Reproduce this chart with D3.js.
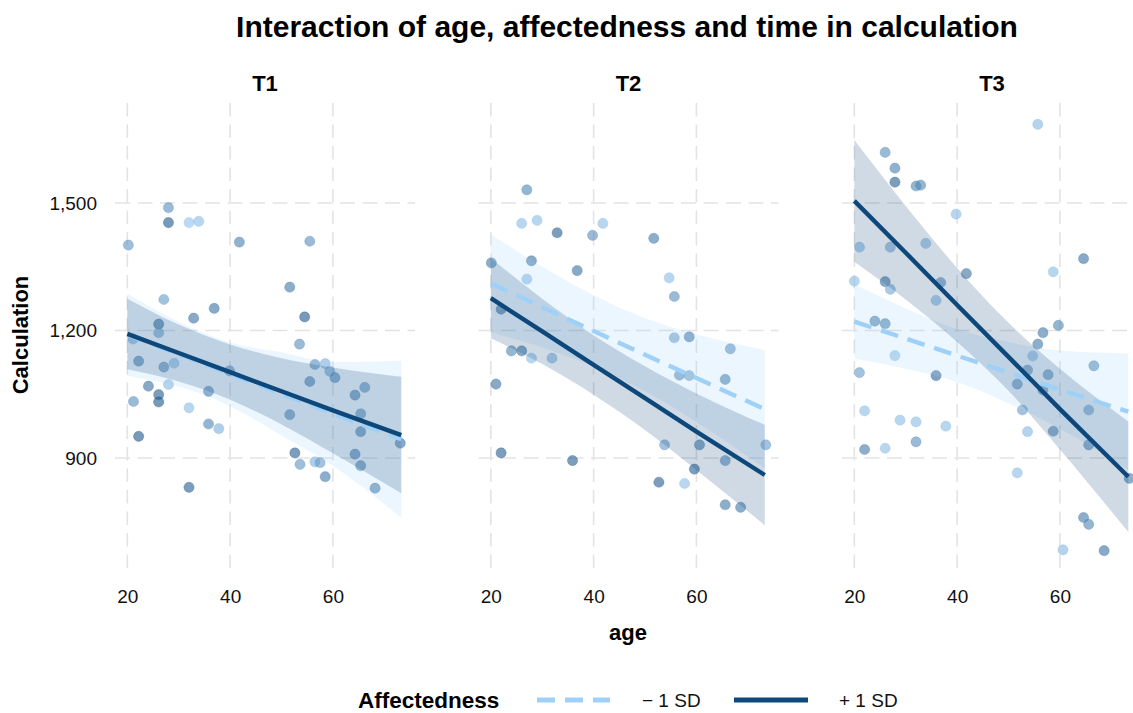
<!DOCTYPE html>
<html><head><meta charset="utf-8">
<script src="https://cdn.jsdelivr.net/npm/d3@7"></script>
<style>body{margin:0;background:#fff;overflow:hidden} svg{display:block}</style>
</head><body><svg id="c" width="1133" height="713"></svg>
<script>
// ---------------- DATA ----------------
const panels = ["T1", "T2", "T3"];
const seriesLabels = ["\u2212 1 SD", "+ 1 SD"];
const xTicks = [20, 40, 60];
const yTicks = [900, 1200, 1500];
const predAges = [20, 30, 40, 50, 60, 73.3];

// predicted Calculation, -1 SD affectedness
const fitLow = [
  [1190, 1144, 1097, 1051, 1004, 944],
  [1311, 1255, 1199, 1143, 1088, 1015],
  [1221, 1181, 1141, 1101, 1061, 1009]
];
const fitLowUpper = [
  [1287, 1220, 1172, 1149, 1126, 1129],
  [1426, 1350, 1283, 1229, 1191, 1154],
  [1308, 1252, 1203, 1173, 1153, 1146]
];
const fitLowLower = [
  [1093, 1068, 1022, 953, 882, 759],
  [1196, 1160, 1115, 1057, 985, 876],
  [1134, 1110, 1079, 1029, 969, 872]
];
// predicted Calculation, +1 SD affectedness
const fitHigh = [
  [1192, 1147, 1102, 1057, 1012, 954],
  [1276, 1198, 1119, 1041, 962, 860],
  [1505, 1383, 1260, 1138, 1015, 856]
];
const fitHighUpper = [
  [1275, 1214, 1167, 1135, 1113, 1091],
  [1370, 1275, 1189, 1116, 1052, 978],
  [1648, 1493, 1347, 1218, 1110, 986]
];
const fitHighLower = [
  [1109, 1080, 1037, 979, 911, 817],
  [1182, 1121, 1049, 966, 872, 742],
  [1362, 1273, 1173, 1058, 920, 726]
];

// observed points: age, calculation, affectedness (0 = low, 1 = high)
const t1Age = [28.0,28.0,32.0,33.9,20.2,41.8,55.5,51.6,27.1,36.9,32.9,54.5,26.1,26.1,21.1,53.5,22.2,27.1,29.1,39.9,56.5,58.5,59.4,60.4,55.5,28.0,24.1,26.1,26.1,21.2,35.8,32.0,64.3,66.2,51.6,65.4,65.4,35.8,37.8,22.2,73.1,52.6,64.3,53.6,56.5,57.5,65.4,58.5,68.2,32.0];
const t1Calc = [1489,1454,1454,1457,1401,1408,1410,1302,1273,1252,1229,1232,1215,1195,1180,1168,1128,1114,1123,1105,1120,1122,1104,1089,1080,1073,1069,1049,1032,1033,1057,1018,1048,1066,1002,1004,962,980,969,951,935,912,909,885,891,889,882,856,829,831];
const t1Aff = [.5,.9,.1,.15,.45,.6,.5,.65,.4,.7,.7,.9,.9,.4,.3,.5,.7,.6,.2,.5,.55,.25,.4,.65,.7,.2,.7,.85,.9,.5,.7,.15,.7,.55,.6,.55,.7,.55,.25,.9,.7,.85,.7,.45,.25,.4,.65,.65,.7,.85];

const t2Age = [27.0,26.0,29.0,32.9,39.8,41.8,51.7,20.1,27.9,36.8,27.0,54.7,55.7,22.0,24.0,26.0,27.9,31.9,55.7,58.6,66.6,56.7,58.6,65.6,21.0,53.8,60.6,73.5,22.0,35.9,65.6,59.6,52.7,57.7,65.6,68.6];
const t2Calc = [1531,1452,1459,1430,1424,1452,1417,1359,1364,1341,1321,1324,1280,1250,1152,1152,1135,1135,1183,1185,1157,1095,1094,1085,1074,931,931,931,912,894,894,874,843,840,790,784];
const t2Aff = [.55,.15,.15,.85,.5,.15,.65,.65,.7,.7,.2,.15,.5,.85,.55,.7,.15,.2,.4,.7,.5,.55,.4,.65,.7,.4,.65,.4,.85,.85,.5,.85,.85,.15,.65,.65];

const t3Age = [55.7,26.0,27.9,27.9,32.0,32.9,39.8,21.0,27.0,33.9,64.6,41.8,58.7,20.0,26.0,27.0,36.8,35.9,24.0,26.0,59.7,56.7,55.7,27.9,54.7,66.6,21.0,35.9,53.7,57.7,51.7,56.7,52.7,65.6,22.0,28.9,32.0,37.8,53.7,58.7,32.0,22.0,26.0,65.6,51.7,73.5,64.6,65.6,60.6,68.6];
const t3Calc = [1685,1619,1582,1549,1540,1542,1474,1396,1396,1405,1369,1334,1338,1316,1315,1297,1313,1271,1222,1216,1212,1195,1168,1141,1140,1117,1101,1094,1107,1096,1074,1060,1013,1013,1011,989,985,975,962,963,938,920,923,931,865,852,760,744,684,682];
const t3Aff = [.2,.5,.6,.85,.55,.55,.15,.2,.3,.2,.7,.7,.15,.15,.7,.3,.5,.2,.65,.65,.55,.65,.65,.15,.2,.55,.4,.8,.55,.55,.55,.55,.4,.4,.15,.15,.15,.15,.2,.55,.5,.65,.15,.55,.15,.65,.65,.55,.2,.7];

// ---------------- STYLE ----------------
const colLow = "#9fd0f8", colHigh = "#0e487b";
const font = "'Liberation Sans', Arial, Helvetica, sans-serif";
const panelLeft = [115, 478.5, 842], panelW = 300;
const pTop = 103, pBottom = 572;

const svg = d3.select("#c").style("font-family", font);
const x = d3.scaleLinear().domain([17.6, 75.97]).range([0, panelW]);
const y = d3.scaleLinear().domain([631.8, 1735.3]).range([pBottom, pTop]);
const affColor = d3.scaleLinear().domain([0, 1]).range([colLow, colHigh]).interpolate(d3.interpolateRgb);

const pointsData = [
  t1Age.map((a, i) => ({age: a, calc: t1Calc[i], aff: t1Aff[i]})),
  t2Age.map((a, i) => ({age: a, calc: t2Calc[i], aff: t2Aff[i]})),
  t3Age.map((a, i) => ({age: a, calc: t3Calc[i], aff: t3Aff[i]}))
];

// title
svg.append("text").attr("x", 627).attr("y", 37).attr("text-anchor", "middle")
  .attr("font-size", 30).attr("font-weight", "bold").attr("fill", "#000")
  .text("Interaction of age, affectedness and time in calculation");

panels.forEach((p, pi) => {
  const g = svg.append("g").attr("transform", `translate(${panelLeft[pi]},0)`);
  // strip
  g.append("text").attr("x", panelW / 2).attr("y", 91).attr("text-anchor", "middle")
    .attr("font-size", 22).attr("font-weight", "bold").attr("fill", "#000").text(p);
  // grid
  g.selectAll("line.vg").data(xTicks).enter().append("line").attr("class", "vg")
    .attr("x1", d => x(d)).attr("x2", d => x(d)).attr("y1", pTop).attr("y2", pBottom)
    .attr("stroke", "#e3e3e3").attr("stroke-width", 1.6).attr("stroke-dasharray", "13.5,8");
  g.selectAll("line.hg").data(yTicks).enter().append("line").attr("class", "hg")
    .attr("x1", 0).attr("x2", panelW).attr("y1", d => y(d)).attr("y2", d => y(d))
    .attr("stroke", "#e3e3e3").attr("stroke-width", 1.6).attr("stroke-dasharray", "15,7.5");

  // points
  g.selectAll("circle").data(pointsData[pi]).enter().append("circle")
    .attr("cx", d => x(d.age)).attr("cy", d => y(d.calc)).attr("r", 5.1)
    .attr("fill", d => affColor(d.aff)).attr("fill-opacity", 0.6)
    .attr("stroke", d => affColor(d.aff)).attr("stroke-opacity", 0.35).attr("stroke-width", 0.9);

  // ribbons
  const ribbon = (lo, hi) => d3.area().curve(d3.curveMonotoneX)
    .x((d, i) => x(predAges[i])).y0((d, i) => y(lo[i])).y1((d, i) => y(hi[i]))(predAges);
  g.append("path").attr("d", ribbon(fitLowLower[pi], fitLowUpper[pi]))
    .attr("fill", colLow).attr("fill-opacity", 0.2);
  g.append("path").attr("d", ribbon(fitHighLower[pi], fitHighUpper[pi]))
    .attr("fill", colHigh).attr("fill-opacity", 0.2);

  // lines
  const line = vals => d3.line().x((d, i) => x(predAges[i])).y((d, i) => y(vals[i]))(predAges);
  g.append("path").attr("d", line(fitLow[pi])).attr("fill", "none")
    .attr("stroke", colLow).attr("stroke-width", 4.4).attr("stroke-dasharray", "18,10");
  g.append("path").attr("d", line(fitHigh[pi])).attr("fill", "none")
    .attr("stroke", colHigh).attr("stroke-width", 4.4);

  // x axis labels
  const xa = g.append("g").attr("transform", `translate(0,${pBottom})`)
    .call(d3.axisBottom(x).tickValues(xTicks).tickSize(0).tickPadding(18).tickFormat(d3.format("d")));
  xa.select(".domain").remove();
  xa.selectAll("text").attr("font-size", 19).attr("font-family", font).attr("fill", "#111");
});

// y axis labels
const ya = svg.append("g").attr("transform", `translate(${panelLeft[0]},0)`)
  .call(d3.axisLeft(y).tickValues(yTicks).tickSize(0).tickPadding(18).tickFormat(d3.format(",")));
ya.select(".domain").remove();
ya.selectAll("text").attr("font-size", 19).attr("font-family", font).attr("fill", "#111");

// axis titles
svg.append("text").attr("x", 628).attr("y", 640).attr("text-anchor", "middle")
  .attr("font-size", 22).attr("font-weight", "bold").text("age");
svg.append("text").attr("transform", `translate(28,335) rotate(-90)`)
  .attr("text-anchor", "middle").attr("font-size", 22).attr("font-weight", "bold").text("Calculation");

// legend
const lg = svg.append("g");
lg.append("text").attr("x", 358).attr("y", 707.5).attr("font-size", 22.5).attr("font-weight", "bold").text("Affectedness");
const keys = [
  {x1: 537, x2: 610, tx: 642, col: colLow, dash: "18,10", label: seriesLabels[0]},
  {x1: 734, x2: 808, tx: 839, col: colHigh, dash: null, label: seriesLabels[1]}
];
keys.forEach(k => {
  lg.append("line").attr("x1", k.x1).attr("x2", k.x2).attr("y1", 700).attr("y2", 700)
    .attr("stroke", k.col).attr("stroke-width", 5).attr("stroke-dasharray", k.dash);
  lg.append("text").attr("x", k.tx).attr("y", 706.5).attr("font-size", 19).attr("fill", "#111").text(k.label);
});
</script></body></html>
